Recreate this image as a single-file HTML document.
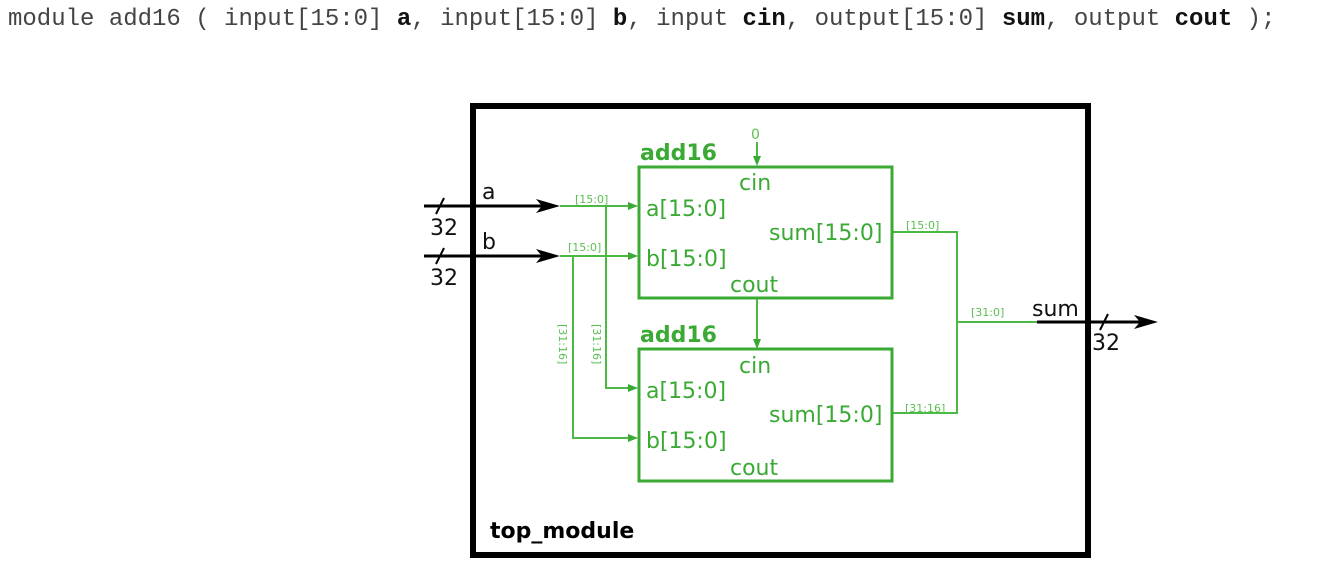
<!DOCTYPE html>
<html><head><style>
html,body{margin:0;padding:0;background:#fff;width:1337px;height:569px;overflow:hidden}
.hdr{position:absolute;left:8px;top:6px;font-family:"Liberation Mono",monospace;font-size:24px;color:#444;white-space:pre;letter-spacing:0}
.hdr b{color:#111}
</style></head><body>
<div class="hdr">module add16 ( input[15:0] <b>a</b>, input[15:0] <b>b</b>, input <b>cin</b>, output[15:0] <b>sum</b>, output <b>cout</b> );</div>
<svg width="1337" height="569" style="position:absolute;left:0;top:0" xmlns="http://www.w3.org/2000/svg">
<g font-family="DejaVu Sans, sans-serif">
<rect x="473" y="106" width="615" height="449" fill="none" stroke="#000" stroke-width="6"/>
<text x="490" y="538" font-size="22" font-weight="bold" fill="#000">top_module</text>
<g stroke="#000" stroke-width="3">
<line x1="424" y1="206" x2="550" y2="206"/><line x1="424" y1="256" x2="550" y2="256"/>
<line x1="1037" y1="322" x2="1145" y2="322"/>
<line x1="436" y1="214" x2="444" y2="198" stroke-width="2"/>
<line x1="436" y1="264" x2="444" y2="248" stroke-width="2"/>
<line x1="1100" y1="330" x2="1108" y2="314" stroke-width="2"/>
</g>
<path d="M536 199 L560 206 L536 213 L542 206Z" fill="#000"/>
<path d="M536 249 L560 256 L536 263 L542 256Z" fill="#000"/>
<path d="M1134 315 L1158 322 L1134 329 L1140 322Z" fill="#000"/>
<g font-size="22" fill="#111">
<text x="482" y="199">a</text><text x="482" y="249">b</text>
<text x="430" y="235">32</text><text x="430" y="285">32</text>
<text x="1032" y="316">sum</text><text x="1092" y="350">32</text>
</g>
<g stroke="#4cb944" stroke-width="2" fill="none">
<polyline points="560,206 634,206"/>
<polyline points="560,256 634,256"/>
<polyline points="606,206 606,388 634,388"/>
<polyline points="573,256 573,438 634,438"/>
<polyline points="757,142 757,162"/>
<polyline points="757,299 757,345"/>
<polyline points="893,232 957,232 957,413 893,413"/>
<polyline points="957,322 1037,322"/>
</g>
<g fill="#3aaa35">
<path d="M628 202 L638 206 L628 210Z"/><path d="M628 252 L638 256 L628 260Z"/>
<path d="M628 384 L638 388 L628 392Z"/><path d="M628 434 L638 438 L628 442Z"/>
<path d="M753 156 L757 166 L761 156Z"/><path d="M753 339 L757 349 L761 339Z"/>
</g>
<g font-size="11" fill="#5bbf52">
<text x="575" y="203">[15:0]</text><text x="568" y="251">[15:0]</text>
<text x="906" y="229">[15:0]</text><text x="905" y="412">[31:16]</text>
<text x="971" y="316">[31:0]</text>
<text x="751" y="139" font-size="14">0</text>
<text transform="translate(559,324) rotate(90)">[31:16]</text>
<text transform="translate(593,324) rotate(90)">[31:16]</text>
</g>
<g stroke="#3aaa35" stroke-width="3" fill="none">
<rect x="639" y="167" width="253" height="131"/>
<rect x="639" y="349" width="253" height="132"/>
</g>
<g fill="#3aaa35" font-size="22">
<text x="640" y="160" font-weight="bold">add16</text>
<text x="739" y="190">cin</text><text x="646" y="216">a[15:0]</text>
<text x="769" y="240">sum[15:0]</text><text x="646" y="266">b[15:0]</text>
<text x="730" y="292">cout</text>
<text x="640" y="342" font-weight="bold">add16</text>
<text x="739" y="373">cin</text><text x="646" y="398">a[15:0]</text>
<text x="769" y="422">sum[15:0]</text><text x="646" y="448">b[15:0]</text>
<text x="730" y="475">cout</text>
</g>
</g>
</svg>
</body></html>
